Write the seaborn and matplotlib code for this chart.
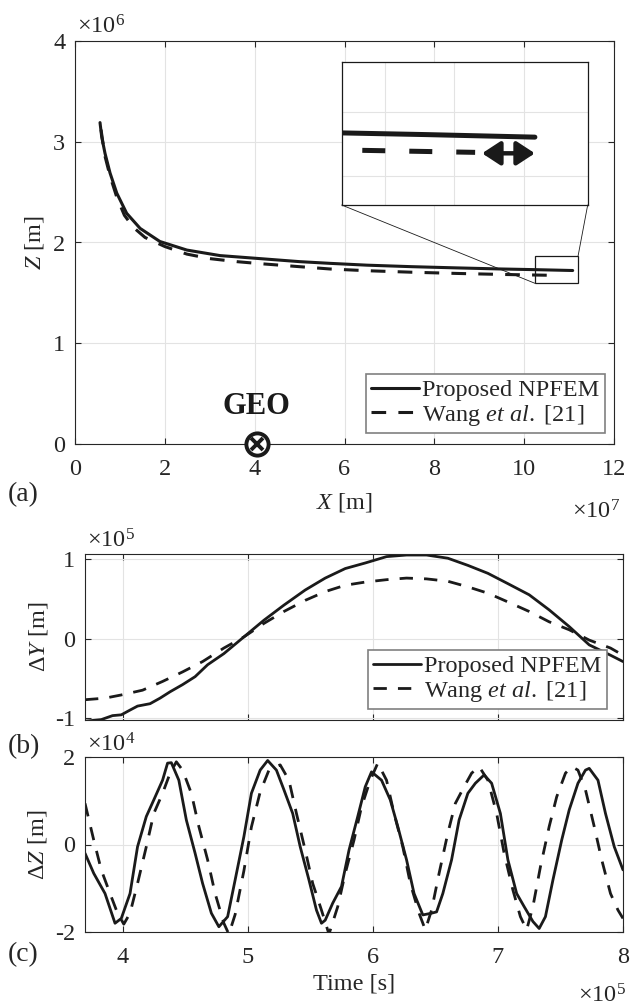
import numpy as np
import pandas as pd
import matplotlib
matplotlib.use("Agg")
import matplotlib.pyplot as plt
import seaborn as sns
from matplotlib.patches import Rectangle, ConnectionPatch

# ---------------- data ----------------
# (a) trajectory in the X-Z plane  (X in 1e7 m, Z in 1e6 m)
traj_x_npfem = [0.557, 0.594, 0.668, 0.78, 0.93, 1.15, 1.45, 1.89, 2.49, 3.23,
                4.12, 5.00, 5.68, 6.50, 7.50, 8.50, 9.50, 10.30, 11.08]
traj_z_npfem = [3.19, 3.05, 2.885, 2.69, 2.49, 2.29, 2.14, 2.01, 1.925, 1.87,
                1.84, 1.81, 1.793, 1.775, 1.76, 1.748, 1.737, 1.73, 1.722]
traj_x_wang = [0.58, 0.66, 0.78, 0.93, 1.10, 1.30, 1.56, 2.00, 2.49, 3.00,
               3.60, 4.12, 5.00, 5.68, 6.50, 7.50, 8.50, 9.50, 10.65]
traj_z_wang = [3.12, 2.87, 2.66, 2.45, 2.27, 2.15, 2.05, 1.96, 1.885, 1.84,
               1.81, 1.79, 1.76, 1.737, 1.72, 1.705, 1.693, 1.683, 1.674]
geo_x, geo_z = 4.05, 0.0

# (b) ΔY history  (time in 1e5 s, ΔY in 1e5 m)
t_dy_npfem = [3.70, 3.83, 3.92, 3.99, 4.06, 4.12, 4.22, 4.30, 4.38, 4.48, 4.58,
              4.68, 4.81, 4.97, 5.13, 5.29, 5.46, 5.62, 5.78, 5.94, 6.11, 6.27,
              6.43, 6.60, 6.76, 6.92, 7.08, 7.25, 7.41, 7.57, 7.73, 7.90, 8.00]
dy_npfem = [-1.04, -1.02, -0.97, -0.96, -0.90, -0.85, -0.82, -0.75, -0.67, -0.58,
            -0.48, -0.33, -0.19, 0.02, 0.23, 0.42, 0.61, 0.76, 0.88, 0.95, 1.03,
            1.05, 1.05, 1.01, 0.92, 0.82, 0.69, 0.55, 0.36, 0.15, -0.08, -0.21, -0.29]
t_dy_wang = [3.70, 3.86, 3.99, 4.16, 4.32, 4.48, 4.64, 4.81, 4.97, 5.13, 5.29,
             5.46, 5.62, 5.78, 5.94, 6.11, 6.27, 6.43, 6.60, 6.76, 6.92, 7.08,
             7.25, 7.41, 7.57, 7.73, 7.90, 8.00]
dy_wang = [-0.77, -0.75, -0.71, -0.65, -0.54, -0.42, -0.29, -0.12, 0.02, 0.19,
           0.34, 0.48, 0.59, 0.67, 0.71, 0.74, 0.76, 0.75, 0.72, 0.65, 0.57,
           0.46, 0.34, 0.21, 0.11, -0.02, -0.12, -0.21]

# (c) ΔZ history  (time in 1e5 s, ΔZ in 1e4 m)
t_dz_npfem = [3.70, 3.77, 3.86, 3.94, 3.99, 4.06, 4.12, 4.19, 4.25, 4.32, 4.36,
              4.39, 4.45, 4.51, 4.58, 4.64, 4.71, 4.77, 4.84, 4.90, 4.97, 5.03,
              5.10, 5.16, 5.23, 5.29, 5.36, 5.42, 5.49, 5.55, 5.59, 5.62, 5.68,
              5.75, 5.81, 5.88, 5.94, 5.99, 6.07, 6.14, 6.20, 6.27, 6.33, 6.40,
              6.47, 6.51, 6.56, 6.63, 6.69, 6.76, 6.82, 6.89, 6.95, 7.02, 7.08,
              7.15, 7.21, 7.28, 7.33, 7.38, 7.44, 7.51, 7.57, 7.64, 7.70, 7.73,
              7.80, 7.86, 7.93, 8.00]
dz_npfem = [-0.20, -0.66, -1.12, -1.80, -1.69, -1.12, -0.05, 0.64, 1.02, 1.47, 1.86,
            1.87, 1.47, 0.56, -0.20, -0.89, -1.57, -1.88, -1.65, -0.81, 0.18, 1.17,
            1.70, 1.92, 1.70, 1.25, 0.71, -0.05, -0.81, -1.50, -1.80, -1.73, -1.34,
            -0.96, -0.13, 0.64, 1.32, 1.66, 1.47, 1.02, 0.41, -0.35, -1.12, -1.61,
            -1.57, -1.54, -1.12, -0.35, 0.56, 1.17, 1.40, 1.59, 1.40, 0.71, -0.35,
            -1.12, -1.42, -1.76, -1.92, -1.65, -0.81, 0.10, 0.79, 1.40, 1.70, 1.74,
            1.47, 0.71, -0.05, -0.58]
t_dz_wang = [3.70, 3.77, 3.83, 3.90, 3.96, 4.01, 4.06, 4.12, 4.19, 4.25, 4.32,
             4.38, 4.43, 4.48, 4.55, 4.61, 4.68, 4.74, 4.81, 4.85, 4.90, 4.97,
             5.03, 5.10, 5.17, 5.26, 5.33, 5.39, 5.46, 5.52, 5.59, 5.65, 5.72,
             5.78, 5.85, 5.91, 5.98, 6.04, 6.11, 6.17, 6.24, 6.30, 6.37, 6.42,
             6.47, 6.53, 6.60, 6.66, 6.73, 6.79, 6.85, 6.92, 6.99, 7.05, 7.12,
             7.18, 7.23, 7.28, 7.34, 7.41, 7.47, 7.54, 7.59, 7.64, 7.70, 7.77,
             7.83, 7.90, 7.96, 8.00]
dz_wang = [0.94, 0.10, -0.58, -1.12, -1.57, -1.82, -1.57, -0.89, -0.05, 0.71, 1.17,
           1.63, 1.89, 1.70, 1.17, 0.41, -0.35, -1.12, -1.80, -2.05, -1.60, -0.60,
           0.40, 1.20, 1.70, 1.82, 1.47, 0.71, -0.13, -0.89, -1.50, -2.05, -1.42,
           -0.66, 0.10, 0.86, 1.47, 1.86, 1.47, 0.71, -0.05, -0.89, -1.57, -1.95,
           -1.50, -0.66, 0.26, 0.94, 1.32, 1.63, 1.78, 1.47, 0.71, -0.20, -1.04,
           -1.65, -1.95, -1.42, -0.51, 0.41, 1.09, 1.63, 1.78, 1.70, 1.25, 0.41,
           -0.35, -1.12, -1.50, -1.69]

labels = ["Proposed NPFEM", "Wang $et\\ al.$ [21]"]

# ---------------- style ----------------
sns.set_theme(style="white")
plt.rcParams.update({
    "font.family": ["Liberation Serif", "DejaVu Serif"],
    "mathtext.fontset": "custom",
    "mathtext.rm": "Liberation Serif",
    "mathtext.it": "Liberation Serif:italic",
    "mathtext.bf": "Liberation Serif:bold",
    "font.size": 17.5,
    "axes.edgecolor": "#262626",
    "axes.linewidth": 0.8,
    "text.color": "#262626",
    "xtick.color": "#262626",
    "ytick.color": "#262626",
    "lines.scale_dashes": True,
})

W, H = 639, 1005
fig = plt.figure(figsize=(W / 100, H / 100), dpi=100)


def box(l, t, r, b):
    return [l / W, 1 - b / H, (r - l) / W, (b - t) / H]


def fx(px):
    return px / W


def fy(py):
    return 1 - py / H


GRID = "#e3e3e3"
FS = 17.5


def style_axes(ax, xpad=8, ypad=7):
    ax.grid(True, color=GRID, lw=0.8)
    ax.set_axisbelow(True)
    ax.tick_params(direction="in", length=4.2, width=0.8, top=True, right=True,
                   bottom=True, left=True, labelsize=FS)
    ax.tick_params(axis="x", pad=xpad)
    ax.tick_params(axis="y", pad=ypad)
    for s in ax.spines.values():
        s.set_visible(True)
        s.set_color("#262626")
        s.set_linewidth(0.8)


def draw_line(ax, x, y, dashed, lw, dash=(4.8, 4.0)):
    sns.lineplot(x=x, y=y, ax=ax, color="k", lw=lw, estimator=None,
                 sort=False, legend=False)
    ln = ax.lines[-1]
    if dashed:
        ln.set_linestyle((0, dash))
    return ln


def add_legend(ax, handles, right, bottom):
    leg = ax.legend(handles, labels, loc="lower right",
                    bbox_to_anchor=(fx(right), fy(bottom)),
                    bbox_transform=fig.transFigure, borderaxespad=0,
                    fontsize=FS, handlelength=2.0, handletextpad=0.12,
                    borderpad=0.22, labelspacing=0.05, fancybox=False,
                    framealpha=1, edgecolor="#808080")
    leg.get_frame().set_linewidth(1.2)
    return leg


def tail(xs, ys, x_from):
    keep = [(x, y) for x, y in zip(xs, ys) if x >= x_from]
    return [p[0] for p in keep], [p[1] for p in keep]


# ---------------- (a) ----------------
ax_a = fig.add_axes(box(75, 41, 614, 444))
style_axes(ax_a, xpad=11)
la1 = draw_line(ax_a, traj_x_npfem, traj_z_npfem, False, 2.2)
la2 = draw_line(ax_a, traj_x_wang, traj_z_wang, True, 2.2)
ax_a.set_xlim(0, 12)
ax_a.set_ylim(0, 4)
ax_a.set_xticks(range(0, 13, 2))
ax_a.set_yticks(range(0, 5))
ax_a.set_xlabel("$X$ [m]", fontsize=FS, labelpad=8)
ax_a.set_ylabel("$Z$ [m]", fontsize=FS, labelpad=5)
ax_a.plot(geo_x, geo_z, "o", ms=16, mfc="white", mec="k", mew=2.8,
          clip_on=False, zorder=5)
ax_a.plot(geo_x, geo_z, "x", ms=9, mec="k", mew=2.8, clip_on=False, zorder=6)
ax_a.text(geo_x, 0.37, "GEO", ha="center", va="center", fontsize=22,
          fontweight="bold", color="k")
add_legend(ax_a, [la1, la2], 605, 433)

# zoom window on the trajectory tail
zx0, zx1, zy0, zy1 = 10.24, 11.2, 1.595, 1.866
ax_a.add_patch(Rectangle((zx0, zy0), zx1 - zx0, zy1 - zy0, fill=False,
                         ec="k", lw=0.9, zorder=4))
ax_in = fig.add_axes(box(341.7, 62.3, 587.7, 205))
ax_in.set_facecolor("white")
draw_line(ax_in, *tail(traj_x_npfem, traj_z_npfem, 9.5), False, 3.6)
draw_line(ax_in, *tail(traj_x_wang, traj_z_wang, 9.5), True, 3.6,
          dash=(4.6, 4.8))
ax_in.set_xlim(9.69, 11.46)
ax_in.set_ylim(1.508, 1.958)
ax_in.set_xticks([10.0, 10.5, 11.0])
ax_in.set_yticks([1.6, 1.8])
ax_in.grid(True, color=GRID, lw=0.8)
ax_in.tick_params(length=0, labelbottom=False, labelleft=False)
for s in ax_in.spines.values():
    s.set_visible(True)
    s.set_color("k")
    s.set_linewidth(0.9)
ax_in.annotate("", xy=(11.08, 1.671), xytext=(10.70, 1.671),
               arrowprops=dict(arrowstyle="<|-|>,head_length=0.55,head_width=0.36",
                               lw=3.2, color="k", mutation_scale=20,
                               shrinkA=0, shrinkB=0))
for a_in, b_main in [((0, 0), (zx0, zy0)), ((1, 0), (zx1, zy1))]:
    con = ConnectionPatch(xyA=a_in, coordsA=ax_in.transAxes, xyB=b_main,
                          coordsB=ax_a.transData, color="k", lw=0.6)
    fig.add_artist(con)

# ---------------- (b) ----------------
ax_b = fig.add_axes(box(85, 554, 623, 720))
style_axes(ax_b)
lb1 = draw_line(ax_b, t_dy_npfem, dy_npfem, False, 2.0)
lb2 = draw_line(ax_b, t_dy_wang, dy_wang, True, 2.0)
ax_b.set_xlim(3.7, 8.0)
ax_b.set_ylim(-1.025, 1.063)
ax_b.set_xticks([4, 5, 6, 7, 8])
ax_b.set_yticks([-1, 0, 1])
ax_b.set_yticklabels(["-1", "0", "1"])
ax_b.tick_params(labelbottom=False)
ax_b.set_xlabel("")
ax_b.set_ylabel("Δ$Y$ [m]", fontsize=FS, labelpad=4)
add_legend(ax_b, [lb1, lb2], 607, 709)

# ---------------- (c) ----------------
ax_c = fig.add_axes(box(85, 757, 623, 932))
style_axes(ax_c, xpad=11)
draw_line(ax_c, t_dz_npfem, dz_npfem, False, 2.0)
draw_line(ax_c, t_dz_wang, dz_wang, True, 2.0)
ax_c.set_xlim(3.7, 8.0)
ax_c.set_ylim(-2, 2)
ax_c.set_xticks([4, 5, 6, 7, 8])
ax_c.set_yticks([-2, 0, 2])
ax_c.set_yticklabels(["-2", "0", "2"])
ax_c.set_xlabel("Time [s]", fontsize=FS, labelpad=4)
ax_c.set_ylabel("Δ$Z$ [m]", fontsize=FS, labelpad=4)

# ---------------- exponents and panel tags ----------------
fig.text(fx(77), fy(34), "×10$^\\mathregular{6}$", fontsize=FS, va="baseline")
fig.text(fx(620), fy(518), "×10$^\\mathregular{7}$", fontsize=FS,
         va="baseline", ha="right")
fig.text(fx(87), fy(548), "×10$^\\mathregular{5}$", fontsize=FS, va="baseline")
fig.text(fx(87), fy(751), "×10$^\\mathregular{4}$", fontsize=FS, va="baseline")
fig.text(fx(626), fy(1002), "×10$^\\mathregular{5}$", fontsize=FS,
         va="baseline", ha="right")
for tag, py in [("(a)", 495), ("(b)", 747), ("(c)", 955)]:
    fig.text(fx(8), fy(py), tag, fontsize=20, va="center", ha="left")

fig.savefig("out.png", dpi=100)
